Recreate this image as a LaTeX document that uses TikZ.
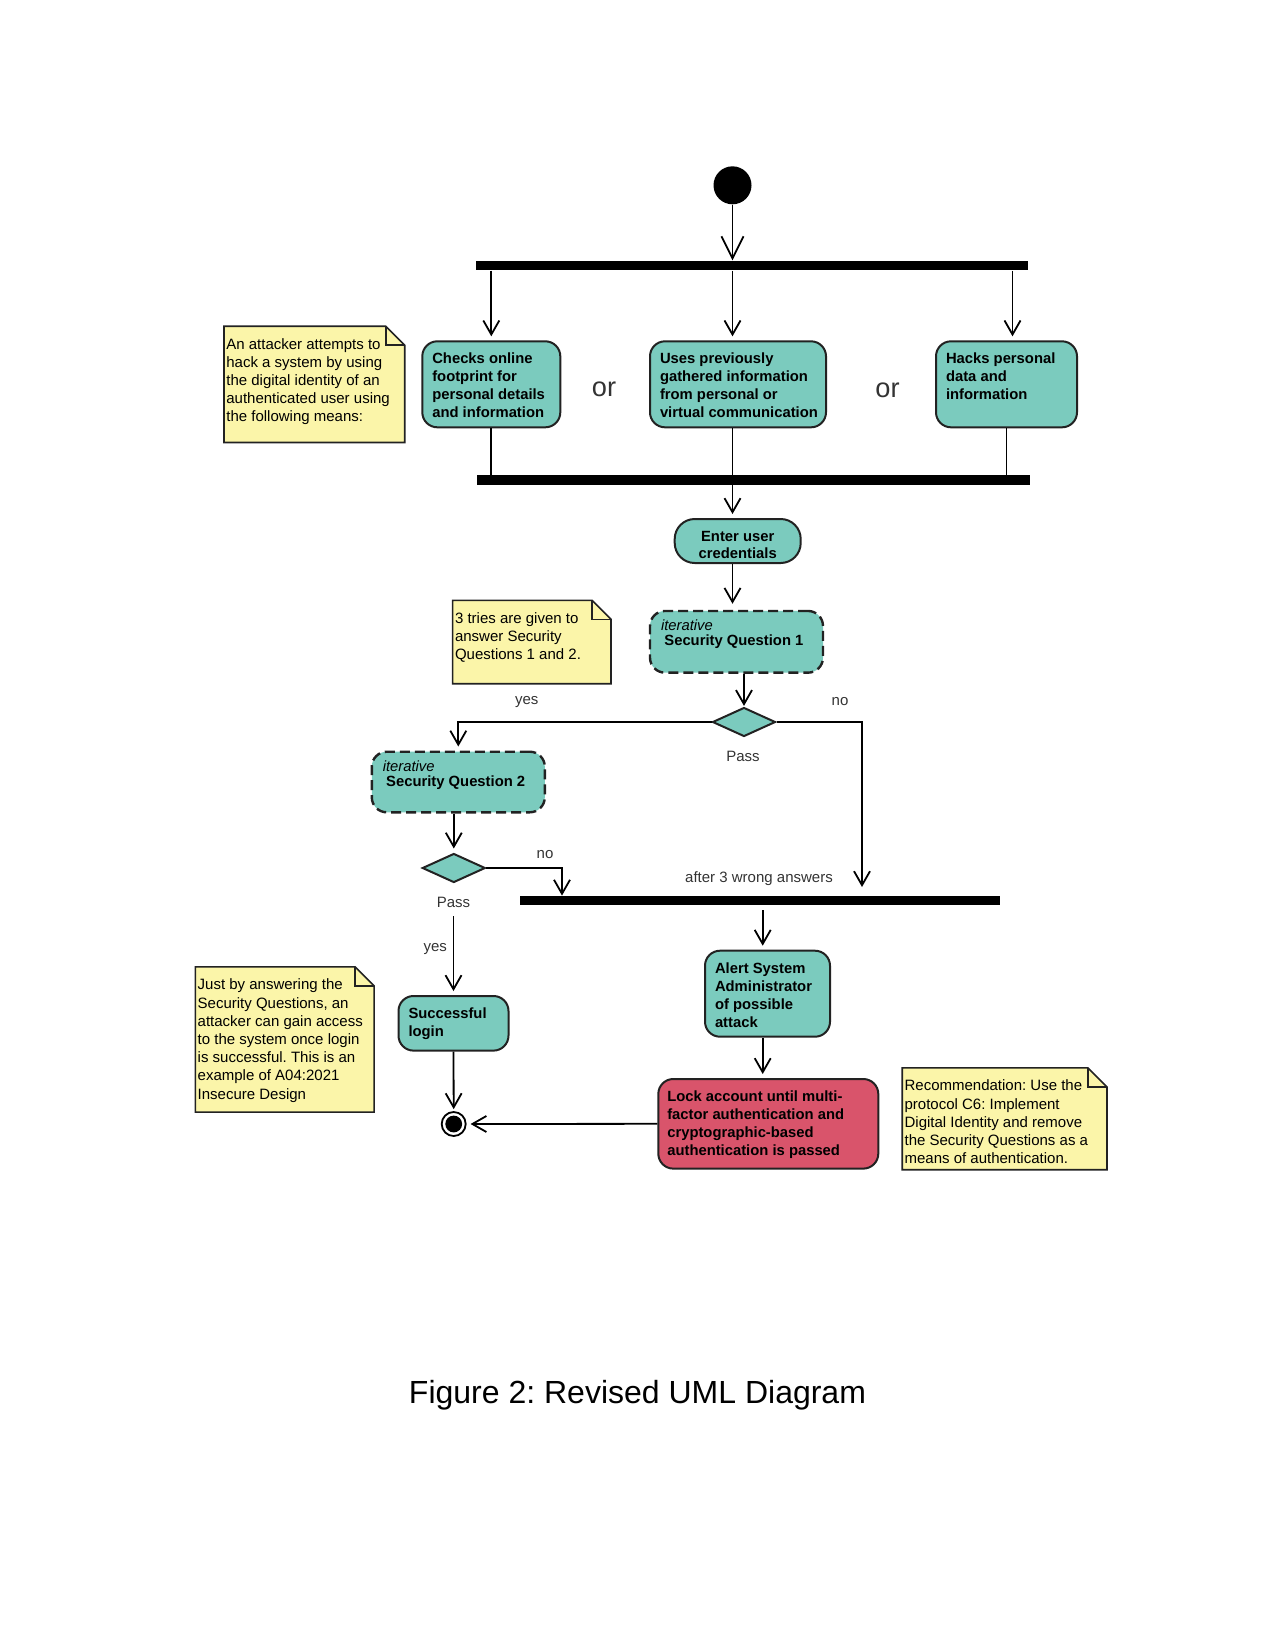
\documentclass[tikz,border=0pt]{standalone}
\usepackage{fontspec}
\setmainfont{Liberation Sans}
\usetikzlibrary{arrows.meta,shapes.geometric,calc,backgrounds}
\definecolor{tealfill}{HTML}{7BCBBE}
\definecolor{redfill}{HTML}{D9546B}
\definecolor{notefill}{HTML}{FBF5A9}
\definecolor{edgecol}{HTML}{222222}
\definecolor{lblgray}{HTML}{333333}
\frenchspacing
\newcommand{\bxfont}{\fontsize{7.4}{9}\selectfont\bfseries}
\newcommand{\ntfont}{\fontsize{7.5}{9.1}\selectfont}
\newcommand{\btext}[3]{\parbox[c][#2][t]{#1}{\raggedright\hyphenpenalty=10000\vspace*{5pt}\strut #3}}
\newcommand{\ntext}[3]{\parbox[c][#2][t]{#1}{\raggedright\hyphenpenalty=10000\vspace*{4.9pt}\strut #3}}
\newcommand{\sqtext}[3]{\parbox[c][#2][t]{#1}{\raggedright\vspace*{3.7pt}\strut{\mdseries\itshape iterative}\\[-1.8pt]\hspace*{1.7pt}#3}}
\begin{document}
\begin{tikzpicture}[x=0.5pt,y=-0.5pt,
  act/.style={draw=edgecol, line width=1pt, fill=tealfill, rounded corners=7.5pt, inner xsep=5pt, inner ysep=0pt, font=\bxfont},
  iter/.style={act, dash pattern=on 5pt off 2.5pt, line width=1.2pt, inner xsep=5.5pt},
  alarmact/.style={act, fill=redfill, inner xsep=4.5pt},
  notebox/.style={inner xsep=1pt, inner ysep=0pt, font=\ntfont},
  notebd/.style={draw=edgecol, line width=0.8pt, fill=notefill},
  bar/.style={fill=black, inner sep=0pt},
  dec/.style={diamond, draw=edgecol, line width=1pt, fill=tealfill, minimum width=31.5pt, minimum height=14.5pt, inner sep=0pt},
  arr/.style={-{Straight Barb[length=7pt,width=8pt]}, line width=0.9pt, shorten >=2pt},
  plain/.style={line width=0.9pt},
  lbl/.style={font=\fontsize{7.5}{9}\selectfont, text=lblgray, inner sep=0pt},
  ortext/.style={font=\fontsize{13.6}{16}\selectfont, text=lblgray, inner sep=0pt}]
\useasboundingbox (0,0) rectangle (1275,1650);

\node[circle, fill=black, minimum size=19pt, inner sep=0pt] (start) at (732.5,185.3) {};
\node[bar, minimum width=275.8pt, minimum height=4.75pt] (fork) at (752.2,265.5) {};
\node[act] (b1) at (491.3,384.3) {\btext{59pt}{43pt}{Checks online\\footprint for\\personal details\\and information}};
\node[act] (b2) at (738,384.3) {\btext{78pt}{43pt}{Uses previously\\gathered information\\from personal or\\\mbox{virtual communication}}};
\node[act] (b3) at (1006.5,384.3) {\btext{60.5pt}{43pt}{Hacks personal\\data and\\information}};
\node[ortext] (or1) at (604,389) {or};
\node[ortext] (or2) at (887.5,390) {or};
\node[notebox] (n1) at (314.35,384.35) {\ntext{88pt}{57.7pt}{An attacker attempts to\\hack a system by using\\the digital identity of an\\authenticated user using\\the following means:}};
\node[bar, minimum width=276.7pt, minimum height=5pt] (join) at (753.3,480) {};
\node[act, rounded corners=10pt] (enter) at (737.7,541) {\parbox[c][22pt][t]{53pt}{\centering\vspace*{5.6pt}\fontsize{7.4}{8.3}\selectfont\strut Enter user\\credentials}};
\node[iter] (sq1) at (736.5,641.8) {\sqtext{75.5pt}{30.85pt}{Security Question 1}};
\node[notebox] (n2) at (531.8,642) {\ntext{76.75pt}{41.3pt}{3 tries are given to\\answer Security\\Questions 1 and 2.}};
\node[dec] (d1) at (744,722) {};
\node[lbl] (yes1) at (526.7,701.7) {yes};
\node[lbl] (no1) at (840,701.7) {no};
\node[lbl] (pass1) at (743,756) {Pass};
\node[iter] (sq2) at (458.3,782) {\sqtext{75.5pt}{30.3pt}{Security Question 2}};
\node[dec] (d2) at (453.8,868) {};
\node[lbl] (no2) at (545,855) {no};
\node[lbl] (pass2) at (453.5,902.7) {Pass};
\node[lbl] (after) at (759,878.3) {after 3 wrong answers};
\node[bar, minimum width=240pt, minimum height=4.5pt] (alarm) at (760.4,900.5) {};
\node[lbl] (yes2) at (435.3,949.3) {yes};
\node[act] (login) at (453.5,1023.3) {\btext{45pt}{27.3pt}{Successful\\login}};
\node[act] (alert) at (767.5,993.7) {\btext{52.5pt}{43pt}{Alert System\\Administrator\\of possible\\attack}};
\node[alarmact] (lock) at (768.3,1123.8) {\btext{101pt}{44.8pt}{Lock account until multi-\\factor authentication and\\cryptographic-based\\authentication is passed}};
\node[circle, draw=black, line width=0.9pt, fill=white, minimum size=12pt, inner sep=0pt, path picture={\fill[black] (path picture bounding box.center) circle (4.2pt);}] (final) at (453.7,1124) {};
\node[notebox] (n3) at (284.7,1039.5) {\ntext{87pt}{72.2pt}{Just by answering the\\Security Questions, an\\attacker can gain access\\to the system once login\\is successful. This is an\\example of A04:2021\\Insecure Design}};
\node[notebox] (n4) at (1004.6,1118.8) {\ntext{100pt}{50.5pt}{Recommendation: Use the\\protocol C6: Implement\\Digital Identity and remove\\the Security Questions as a\\means of authentication.}};
\node[font=\fontsize{16}{19}\selectfont, inner sep=0pt] (cap) at (637.5,1395) {Figure 2: Revised UML Diagram};

\begin{scope}[on background layer]
\foreach \nm in {n1,n2,n3,n4}{
  \path[notebd] (\nm.north west) -- ($(\nm.north east)+(-19,0)$) -- ($(\nm.north east)+(0,19)$) -- (\nm.south east) -- (\nm.south west) -- cycle;
  \draw[draw=edgecol, line width=0.8pt] ($(\nm.north east)+(-19,0)$) |- ($(\nm.north east)+(0,19)$);
}
\end{scope}

\draw[-{Straight Barb[length=11pt,width=11pt]}, line width=0.9pt] (start) -- (start |- fork.north);
\draw[arr] (fork.south -| b1.north) -- (b1.north);
\draw[arr] (fork.south -| start) -- (b2.north -| start);
\coordinate (b3in) at ($(b3.north)+(6,0)$);
\draw[arr] (fork.south -| b3in) -- (b3in);
\draw[plain] (b1.south) -- (b1.south |- join.north);
\draw[plain] (b2.south -| start) -- (join.north -| start);
\draw[plain] (b3.south) -- (b3.south |- join.north);
\draw[arr] (join.south -| start) -- (enter.north -| start);
\draw[arr, shorten >=3pt] (enter.south -| start) -- (sq1.north -| start);
\draw[arr, shorten >=0.3pt] (sq1.south -| d1.north) -- (d1.north);
\draw[arr] (d1.west) -| (sq2.north);
\coordinate (noend1) at (862,887);
\draw[arr, shorten >=0pt] (d1.east) -| (noend1);
\draw[arr] (sq2.south -| d2.north) -- (d2.north);
\coordinate (noend2) at (562,0);
\draw[arr, shorten >=0pt] (d2.east) -| (alarm.north -| noend2);
\draw[arr, shorten <=4pt] (pass2.south) -- (login.north);
\draw[arr, shorten >=1pt] (login.south) -- (final.north);
\coordinate (ax) at (762.7,0);
\draw[arr, shorten <=2.5pt] (alarm.south -| ax) -- (alert.north -| ax);
\draw[arr] (alert.south -| ax) -- (lock.north -| ax);
\draw[arr] (lock.west) -- (final.east);
\end{tikzpicture}
\end{document}
